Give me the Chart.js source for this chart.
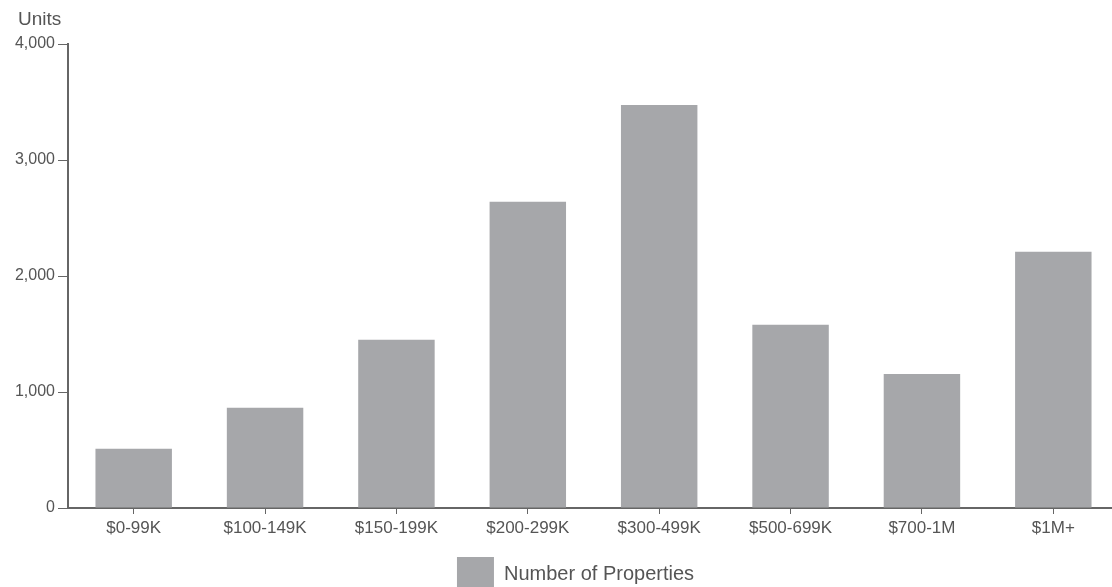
<!DOCTYPE html>
<html>
<head>
<meta charset="utf-8">
<script src="https://cdn.jsdelivr.net/npm/chart.js@4/dist/chart.umd.min.js"></script>
<style>
  html, body { margin: 0; padding: 0; background: #fff; overflow: hidden; }
  #wrap { width: 1151px; height: 601px; }
</style>
</head>
<body>
<div id="wrap"><canvas id="chart"></canvas></div>
<script>
const categories = ['$0-99K', '$100-149K', '$150-199K', '$200-299K', '$300-499K', '$500-699K', '$700-1M', '$1M+'];
const properties = [510, 865, 1450, 2640, 3475, 1580, 1155, 2210];
const seriesName = 'Number of Properties';
const axisTitle = 'Units';

const barColor = '#a6a7aa';
const axisColor = '#666';
const textColor = '#555';
const font = '"Liberation Sans", Arial, sans-serif';

// draws the "Units" caption over the y tick labels
const unitsLabel = {
  id: 'unitsLabel',
  afterDraw(chart) {
    const ctx = chart.ctx;
    ctx.save();
    ctx.font = '19px ' + font;
    ctx.fillStyle = textColor;
    ctx.textAlign = 'left';
    ctx.textBaseline = 'middle';
    ctx.fillText(axisTitle, 18, 20);
    ctx.restore();
  }
};

new Chart(document.getElementById('chart').getContext('2d'), {
  type: 'bar',
  data: {
    labels: categories,
    datasets: [{
      label: seriesName,
      data: properties,
      backgroundColor: barColor,
      borderWidth: 0,
      barPercentage: 0.582,
      categoryPercentage: 1
    }]
  },
  options: {
    responsive: true,
    maintainAspectRatio: false,
    animation: false,
    layout: { padding: { top: 44, left: 0, right: 0, bottom: 0 } },
    plugins: {
      tooltip: { enabled: false },
      legend: {
        position: 'bottom',
        labels: {
          boxWidth: 37,
          boxHeight: 34,
          padding: 10,
          color: textColor,
          font: { family: font, size: 20 }
        }
      }
    },
    scales: {
      x: {
        grid: { drawOnChartArea: false, drawTicks: true, tickLength: 6, offset: false, color: axisColor },
        border: { display: true, color: axisColor, width: 2 },
        ticks: { color: textColor, padding: 4, maxRotation: 0, font: { family: font, size: 17 } },
        afterFit(scale) { scale.height = 39; }
      },
      y: {
        min: 0,
        max: 4000,
        ticks: { stepSize: 1000, color: textColor, padding: 3, font: { family: font, size: 16 } },
        grid: { drawOnChartArea: false, drawTicks: true, tickLength: 10, color: axisColor },
        border: { display: true, color: axisColor, width: 2 },
        afterFit(scale) { scale.width = 68; }
      },
      // empty spacer on the right, past the visible page, keeps the legend where the original has it
      spacer: {
        type: 'linear',
        position: 'right',
        display: true,
        ticks: { display: false },
        grid: { display: false },
        border: { display: false },
        afterFit(scale) { scale.width = 32; }
      }
    }
  },
  plugins: [unitsLabel]
});
</script>
</body>
</html>
